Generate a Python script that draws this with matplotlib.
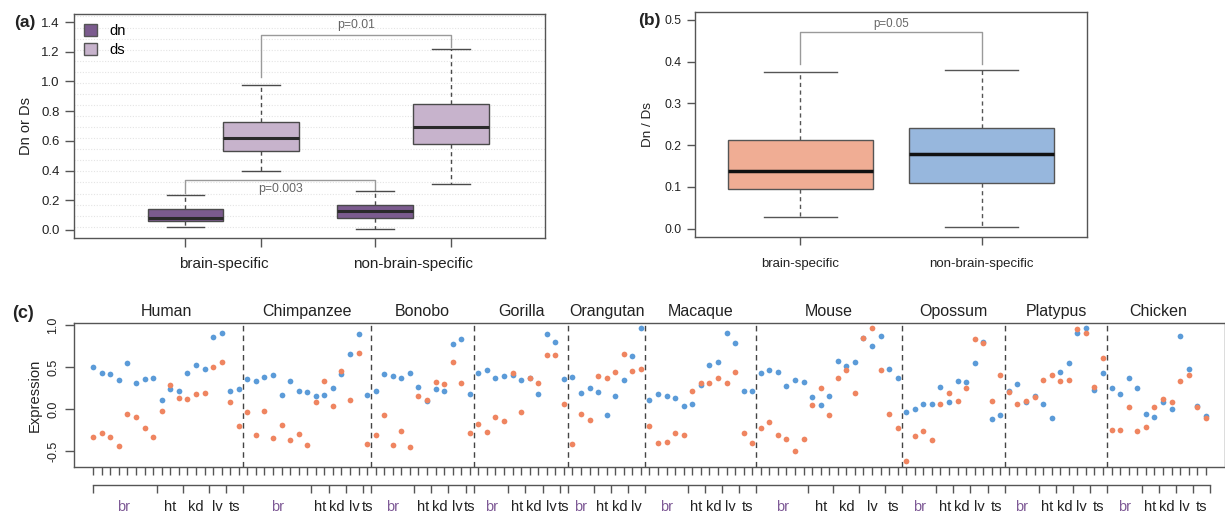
import numpy as np
import matplotlib
matplotlib.use("Agg")
import matplotlib.pyplot as plt
from matplotlib.patches import Patch
import matplotlib.transforms as mtransforms
from matplotlib.ticker import FormatStrFormatter

plt.rcParams['font.family'] = ['Liberation Sans', 'DejaVu Sans']

# ---------------- Panel (a) data: [whisker low, Q1, median, Q3, whisker high]
a_categories = ["brain-specific", "non-brain-specific"]
a_series = ["dn", "ds"]
dn_brain = [0.022, 0.060, 0.084, 0.140, 0.238]
ds_brain = [0.400, 0.533, 0.620, 0.727, 0.976]
dn_nonbrain = [0.004, 0.078, 0.131, 0.169, 0.260]
ds_nonbrain = [0.311, 0.578, 0.696, 0.849, 1.216]
a_pvalues = ["p=0.003", "p=0.01"]

# ---------------- Panel (b) data
b_categories = ["brain-specific", "non-brain-specific"]
ratio_brain = [0.028, 0.096, 0.138, 0.212, 0.375]
ratio_nonbrain = [0.004, 0.110, 0.178, 0.242, 0.380]
b_pvalue = "p=0.05"

# ---------------- Panel (c) data
species = ["Human", "Chimpanzee", "Bonobo", "Gorilla", "Orangutan",
           "Macaque", "Mouse", "Opossum", "Platypus", "Chicken"]
tissues = ["br", "ht", "kd", "lv", "ts"]
# number of samples per tissue (br, ht, kd, lv, ts) for each species
human_n = [8, 3, 3, 2, 2]
chimp_n = [8, 2, 2, 2, 1]
bonobo_n = [5, 2, 2, 2, 1]
gorilla_n = [4, 2, 2, 2, 1]
orangutan_n = [3, 2, 2, 2, 0]
macaque_n = [5, 2, 2, 2, 2]
mouse_n = [6, 3, 3, 3, 2]
opossum_n = [4, 2, 2, 2, 2]
platypus_n = [4, 2, 2, 2, 2]
chicken_n = [4, 2, 2, 2, 2]

# blue points (non-brain-specific genes)
human_blue = [0.50, 0.43, 0.42, 0.34, 0.55, 0.31, 0.36, 0.37, 0.11, 0.24, 0.22, 0.43, 0.52, 0.48, 0.86, 0.91, 0.21, 0.24]
chimp_blue = [0.36, 0.33, 0.38, 0.40, 0.17, 0.33, 0.22, 0.20, 0.15, 0.17, 0.25, 0.42, 0.65, 0.89, 0.17]
bonobo_blue = [0.22, 0.42, 0.39, 0.37, 0.43, 0.26, 0.10, 0.24, 0.21, 0.77, 0.83, 0.18]
gorilla_blue = [0.43, 0.46, 0.37, 0.39, 0.41, 0.34, 0.37, 0.18, 0.89, 0.80, 0.36]
orangutan_blue = [0.38, 0.19, 0.25, 0.20, -0.07, 0.16, 0.35, 0.63, 0.96]
macaque_blue = [0.11, 0.18, 0.15, 0.13, 0.04, 0.06, 0.29, 0.52, 0.56, 0.91, 0.78, 0.21, 0.21]
mouse_blue = [0.43, 0.47, 0.44, 0.28, 0.34, 0.32, 0.14, 0.05, 0.15, 0.57, 0.51, 0.56, 0.84, 0.75, 0.87, 0.48, 0.37]
opossum_blue = [-0.04, 0.00, 0.06, 0.06, 0.26, 0.08, 0.33, 0.32, 0.55, 0.80, -0.12, -0.07]
platypus_blue = [0.22, 0.30, 0.08, 0.16, 0.06, -0.11, 0.44, 0.55, 0.90, 0.96, 0.23, 0.43]
chicken_blue = [0.25, 0.18, 0.37, 0.25, -0.06, -0.10, 0.08, 0.00, 0.87, 0.48, 0.04, -0.08]

# red points (brain-specific genes)
human_red = [-0.33, -0.28, -0.33, -0.44, -0.06, -0.10, -0.22, -0.33, -0.02, 0.29, 0.13, 0.12, 0.18, 0.19, 0.50, 0.56, 0.08, -0.20]
chimp_red = [-0.04, -0.31, -0.02, -0.35, -0.19, -0.37, -0.30, -0.43, 0.08, 0.33, 0.04, 0.45, 0.11, 0.67, -0.42]
bonobo_red = [-0.31, -0.07, -0.43, -0.26, -0.45, 0.15, 0.11, 0.32, 0.30, 0.56, 0.31, -0.29]
gorilla_red = [-0.18, -0.27, -0.10, -0.14, 0.43, -0.04, 0.37, 0.31, 0.64, 0.64, 0.06]
orangutan_red = [-0.42, -0.06, -0.13, 0.39, 0.37, 0.44, 0.66, 0.45, 0.48]
macaque_red = [-0.20, -0.41, -0.39, -0.28, -0.31, 0.21, 0.31, 0.31, 0.37, 0.31, 0.44, -0.29, -0.41]
mouse_red = [-0.22, -0.16, -0.31, -0.36, -0.50, -0.36, 0.05, 0.25, -0.07, 0.37, 0.47, 0.19, 0.84, 0.96, 0.46, -0.06, -0.22]
opossum_red = [-0.62, -0.32, -0.26, -0.37, 0.06, 0.19, 0.10, 0.25, 0.83, 0.78, 0.10, 0.41]
platypus_red = [0.20, 0.06, 0.09, 0.14, 0.35, 0.40, 0.33, 0.34, 0.95, 0.91, 0.26, 0.61]
chicken_red = [-0.25, -0.25, 0.02, -0.26, -0.21, 0.02, 0.12, 0.08, 0.33, 0.41, 0.03, -0.11]

# ---------------- styling
TXT = "#222222"
FRAME = "#555555"
DN_COL = "#7B5B8E"
DS_COL = "#C7B3CC"
SALMON = "#F0AD94"
LBLUE = "#97B7DD"
PT_BLUE = "#5B9BD8"
PT_RED = "#EF8560"
BR_COL = "#7E5A96"
GRAYTXT = "#666666"
BRK = "#9A9A9A"

W, H = 1225, 516
fig = plt.figure(figsize=(W / 100, H / 100), dpi=100)


def frac(x0, y0, x1, y1):
    return [x0 / W, 1 - y1 / H, (x1 - x0) / W, (y1 - y0) / H]


def stats(v):
    return dict(whislo=v[0], q1=v[1], med=v[2], q3=v[3], whishi=v[4], fliers=[])


def style_frame(ax):
    for s in ax.spines.values():
        s.set_color(FRAME)
        s.set_linewidth(1.0)
    ax.tick_params(colors=FRAME, labelcolor=TXT)


# ================= Panel (a)
axa = fig.add_axes(frac(74, 14, 545, 238))
style_frame(axa)
pos_a = [1, 2, 3.5, 4.5]
for gy in np.arange(0.022, 1.45, 0.0745):
    axa.axhline(gy, color="#e4e4e4", lw=0.8, ls=(0, (1, 1.5)), zorder=0)
bp = axa.bxp([stats(dn_brain), stats(ds_brain), stats(dn_nonbrain), stats(ds_nonbrain)],
             positions=pos_a, widths=1.0, capwidths=0.5, patch_artist=True,
             showfliers=False, manage_ticks=False,
             boxprops=dict(edgecolor="#4a4a4a", linewidth=1.0),
             whiskerprops=dict(color="#4a4a4a", linewidth=1.0, linestyle=(0, (3, 2.5))),
             capprops=dict(color="#4a4a4a", linewidth=1.0),
             medianprops=dict(color="#2a2a2a", linewidth=2.2))
for patch, col in zip(bp["boxes"], [DN_COL, DS_COL, DN_COL, DS_COL]):
    patch.set_facecolor(col)
axa.set_xlim(-0.47, 5.74)
axa.set_ylim(-0.054, 1.454)
axa.set_yticks(np.arange(0, 1.41, 0.2))
axa.yaxis.set_major_formatter(FormatStrFormatter("%.1f"))
axa.set_xticks(pos_a)
axa.set_xticklabels([])
axa.tick_params(axis="both", length=6.5, width=1.0, labelsize=9.5)
axa.tick_params(axis="y", pad=4)
axa.set_ylabel("Dn or Ds", fontsize=10.5, color=TXT, labelpad=6)
ta = mtransforms.blended_transform_factory(axa.transData, axa.transAxes)
axa.text(1.5, -0.116, a_categories[0], transform=ta, ha="center", va="center", fontsize=11, color=TXT)
axa.text(4.0, -0.116, a_categories[1], transform=ta, ha="center", va="center", fontsize=11, color=TXT)
# brackets
axa.plot([1, 1, 3.5, 3.5], [0.25, 0.336, 0.336, 0.27], color=BRK, lw=1.0, zorder=1)
axa.text(2.25, 0.276, a_pvalues[0], ha="center", va="center", fontsize=8.8, color=GRAYTXT)
axa.plot([2, 2, 4.5, 4.5], [1.03, 1.31, 1.31, 1.235], color=BRK, lw=1.0, zorder=1)
axa.text(3.25, 1.38, a_pvalues[1], ha="center", va="center", fontsize=8.8, color=GRAYTXT)
handles = [Patch(facecolor=DN_COL, edgecolor="#555"), Patch(facecolor=DS_COL, edgecolor="#555")]
axa.legend(handles, a_series, loc="upper left", frameon=False, fontsize=10.5,
           handlelength=0.9, handleheight=0.9, handletextpad=0.8, labelspacing=0.35,
           borderaxespad=0.3, borderpad=0.4)
fig.text(25 / W, 1 - 22 / H, "(a)", fontsize=12.5, fontweight="bold", ha="center", va="center", color=TXT)

# ================= Panel (b)
axb = fig.add_axes(frac(695, 12, 1087, 237))
style_frame(axb)
bpb = axb.bxp([stats(ratio_brain), stats(ratio_nonbrain)], positions=[1, 2],
              widths=0.8, capwidths=0.4, patch_artist=True, showfliers=False,
              manage_ticks=False,
              boxprops=dict(edgecolor="#555555", linewidth=1.0),
              whiskerprops=dict(color="#555555", linewidth=1.0, linestyle=(0, (3, 2.5))),
              capprops=dict(color="#555555", linewidth=1.0),
              medianprops=dict(color="#111111", linewidth=2.5))
for patch, col in zip(bpb["boxes"], [SALMON, LBLUE]):
    patch.set_facecolor(col)
axb.set_xlim(0.42, 2.58)
axb.set_ylim(-0.02, 0.519)
axb.set_yticks(np.arange(0, 0.51, 0.1))
axb.yaxis.set_major_formatter(FormatStrFormatter("%.1f"))
axb.set_xticks([1, 2])
axb.set_xticklabels(b_categories, fontsize=9.5, color=TXT)
axb.tick_params(axis="both", length=6, width=1.0, labelsize=8.8)
axb.tick_params(axis="x", pad=9, labelsize=9.5)
axb.set_ylabel("Dn / Ds", fontsize=9.7, color=TXT, labelpad=8)
axb.plot([1, 1, 2, 2], [0.395, 0.47, 0.47, 0.395], color=BRK, lw=1.0, zorder=1)
axb.text(1.5, 0.49, b_pvalue, ha="center", va="center", fontsize=8.3, color=GRAYTXT)
fig.text(649 / W, 1 - 20 / H, "(b)", fontsize=12.5, fontweight="bold", ha="center", va="center", color=TXT)

# ================= Panel (c)
axc = fig.add_axes(frac(74, 323, 1225, 467))
style_frame(axc)
counts = [human_n, chimp_n, bonobo_n, gorilla_n, orangutan_n, macaque_n,
          mouse_n, opossum_n, platypus_n, chicken_n]
blues = [human_blue, chimp_blue, bonobo_blue, gorilla_blue, orangutan_blue,
         macaque_blue, mouse_blue, opossum_blue, platypus_blue, chicken_blue]
reds = [human_red, chimp_red, bonobo_red, gorilla_red, orangutan_red,
        macaque_red, mouse_red, opossum_red, platypus_red, chicken_red]
blue_all = np.concatenate([np.asarray(b, float) for b in blues])
red_all = np.concatenate([np.asarray(r, float) for r in reds])
xs = np.arange(len(blue_all))
axc.scatter(xs, blue_all, s=17, color=PT_BLUE, lw=0, zorder=3)
axc.scatter(xs, red_all, s=17, color=PT_RED, lw=0, zorder=3)

n_total = len(blue_all)
pad = 2.25
axc.set_xlim(-pad, n_total - 1 + pad)
axc.set_ylim(-0.69, 1.024)
axc.set_xticks(xs)
axc.set_xticklabels([])
axc.tick_params(axis="x", length=5.8, width=1.0)
axc.set_yticks([-0.5, 0.0, 0.5, 1.0])
axc.yaxis.set_major_formatter(FormatStrFormatter("%.1f"))
axc.tick_params(axis="y", length=6.5, width=1.0, labelsize=9, pad=4)
for lab in axc.get_yticklabels():
    lab.set_rotation(90)
    lab.set_va("center")
axc.set_ylabel("Expression", fontsize=10.6, color=TXT, labelpad=4)

tc = mtransforms.blended_transform_factory(axc.transData, axc.transAxes)
start = 0
boundaries = []
y_line, y_tick, y_lab = -0.125, -0.181, -0.278
for si, (sp, cnt) in enumerate(zip(species, counts)):
    sp_n = sum(cnt)
    if si > 0:
        axc.axvline(start - 0.5, color="#444444", lw=1.0, ls=(0, (4, 3)), zorder=2)
    axc.text(start + (sp_n - 1) / 2, 1.078, sp, transform=tc, ha="center", va="center",
             fontsize=11.5, color=TXT)
    g = start
    for tname, c in zip(tissues, cnt):
        if c == 0:
            continue
        boundaries.append(g - 0.5)
        axc.text(g + (c - 1) / 2, y_lab, tname, transform=tc, ha="center", va="center",
                 fontsize=10.5, color=BR_COL if tname == "br" else TXT)
        g += c
    start += sp_n
boundaries[0] = 0
boundaries.append(n_total - 0.5)
axc.plot([boundaries[0], boundaries[-1]], [y_line, y_line], transform=tc,
         color=FRAME, lw=1.0, clip_on=False)
axc.vlines(boundaries, y_tick, y_line, transform=tc, color=FRAME, lw=1.0, clip_on=False)
fig.text(23 / W, 1 - 314 / H, "(c)", fontsize=13, fontweight="bold", ha="center", va="center", color=TXT)

fig.savefig("out.png", dpi=100)
